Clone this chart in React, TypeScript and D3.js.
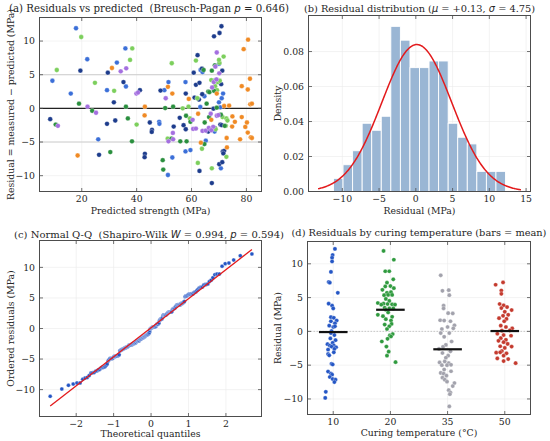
import { useEffect, useRef } from "react";
import * as d3 from "d3";

// ---- panel (a): predicted strength vs residual, grouped by colour ----
const predRoyal = [[17.9,11.9],[22.0,7.3],[9.3,4.1],[16.0,2.2],[32.8,6.8],[29.2,2.7],[26.0,-4.6],[35.9,8.9],[36.1,3.25],[48.2,-2.0],[48.3,-2.3],[50.1,2.7],[51.6,3.9],[51.4,-9.9],[53.0,-7.3],[57.8,3.9],[57.8,-6.4],[59.6,-6.2],[63.3,5.7],[64.0,5.4],[64.7,1.8],[63.2,0.2],[65.2,-4.8],[71.0,1.5],[71.5,2.2],[70.0,6.6],[70.0,0.9],[70.5,0.15],[68.4,-3.45],[70.7,-8.9]];
const predNavy = [[19.5,5.6],[8.5,-1.6],[29.5,5.3],[31.7,0.9],[29.2,-2.3],[32.2,-1.8],[26.3,-6.9],[35.2,3.9],[41.2,2.7],[43.0,-6.75],[42.9,-7.25],[44.8,-2.1],[45.6,-3.2],[45.5,-3.5],[48.7,2.65],[53.5,-2.7],[55.7,-1.4],[57.9,2.2],[57.1,-2.5],[57.9,-3.1],[60.8,5.3],[61.1,1.6],[62.2,7.9],[61.6,3.5],[62.9,3.8],[63.8,5.9],[62.7,1.3],[63.9,2.1],[66.1,-3.45],[62.9,-9.3],[67.4,-11.1],[68.5,4.1],[70.8,3.6],[71.2,5.6],[68.2,10.7],[70.2,11.2],[70.9,12.2],[68.0,-0.05],[70.5,-2.4],[71.0,-2.5],[68.5,-2.95],[70.1,-8.3],[71.2,-8.0],[71.4,-6.4],[71.9,-6.3],[71.6,-6.7]];
const predLime = [[19.8,10.6],[10.9,5.7],[24.8,3.8],[31.8,2.6],[38.4,8.9],[37.6,7.2],[40.0,-2.4],[52.8,6.7],[51.3,-4.5],[56.8,0],[58.9,0.25],[59.4,-1.5],[62.1,1.5],[61.6,7.1],[63.8,-6.0],[62.3,-8.1],[67.4,-8.9],[67.2,4.2],[69.5,3.9],[68.6,3.3],[69.3,2.7],[70.3,4.1],[70.2,6.75],[70.0,7.2],[71.7,7.7],[71.3,-1.3],[68.8,-3.1],[72.7,-1.5],[73.1,-1.8],[72.5,-2.6],[72.7,-7.2]];
const predForest = [[19.0,0.7],[23.8,-0.35],[10.5,-2.4],[30.4,-6.5],[36.1,0.25],[36.8,-1.5],[38.3,-4.9],[50.4,0.05],[53.3,0.25],[52.7,-4.5],[49.5,-7.7],[49.7,-9.1],[55.9,-4.9],[58.0,-1.1],[58.2,-4.9],[59.6,-2.0],[64.4,5.7],[66.1,2.5],[66.5,2.4],[65.5,0.7],[66.4,-1.3],[64.8,-2.1],[64.7,-5.3],[68.2,2.6],[68.5,6.4],[67.4,5.6],[69.2,0.1],[70.7,-0.95],[72.1,-2.6]];
const predPurple = [[22.1,0.25],[25.2,-0.65],[11.3,-2.6],[34.2,5.5],[36.2,5.95],[39.9,2.2],[40.5,2.35],[50.6,1.5],[51.6,-4.9],[53.2,-3.65],[53.3,-4.6],[60.4,-1.7],[60.6,-3.05],[61.6,-3.0],[64.0,-3.35],[65.2,-3.3],[66.3,-2.9],[67.9,-2.75],[67.0,-0.8],[67.2,-3.25],[68.1,3.9],[67.5,3.1],[69.1,4.3],[68.7,6.2],[69.2,8.3],[70.1,5.2],[69.2,-1.1],[69.8,-1.0]];
const predOrange = [[31.0,6.0],[18.5,-7.0],[43.0,0.25],[42.9,-1.05],[51.4,3.2],[53.0,2.2],[59.0,1.4],[62.4,-0.8],[67.2,-1.7],[63.4,-5.1],[69.2,2.2],[71.9,0.35],[73.7,0.4],[74.9,-1.2],[75.8,-2.0],[74.8,-2.7],[72.8,-4.4],[72.9,-5.8],[77.7,-4.6],[78.3,-1.3],[78.3,3.3],[80.5,2.8],[79.0,8.8],[80.6,10.2],[81.3,4.4],[81.4,0.6],[82.0,0.7],[79.6,-2.75],[80.2,-2.1],[80.5,-3.6],[81.6,-4.3],[82.0,-4.4]];
const predGroups = [predRoyal, predNavy, predLime, predForest, predPurple, predOrange];
const predColors = ["#3b6fd8", "#1d3c8c", "#7ccf5c", "#2a8f3e", "#a46fe0", "#f08a24"];

// ---- panel (b): histogram ----
const histEdges = [-11.2,-9.9,-8.6,-7.3,-6.0,-4.7,-3.4,-2.1,-0.8,0.5,1.8,3.1,4.4,5.7,7.0,8.3,9.6,10.9,12.2];
const histDensity = [0.0075,0.0153,0.0233,0.039,0.035,0.043,0.0944,0.0865,0.0708,0.0708,0.0746,0.0746,0.039,0.031,0.0272,0.0115,0.0115,0.0115];
const mu = 0.13;
const sigma = 4.75;
const curveRange = [-13.3, 14.3];

// ---- panel (d): residuals by curing temperature, [jitter, residual] ----
const temps = ["10", "20", "35", "50"];
const tempColors = ["#2456c5", "#2f9a3e", "#a2a2ac", "#c43a2e"];
const tempMeans = [-0.1, 3.2, -2.65, 0.05];
const res10 = [[0.03,12.2],[-0.01,11.3],[-0.02,10.9],[-0.02,10.35],[-0.04,8.8],[-0.08,7.3],[-0.06,7.2],[0.08,5.7],[-0.08,4.1],[-0.02,3.8],[0,3.4],[-0.04,2.1],[0.01,2.0],[0.06,1.6],[-0.04,1.5],[0.03,1.2],[-0.07,0.85],[0,0.65],[0.03,0.75],[-0.03,0.05],[-0.04,-0.25],[0.02,-0.55],[-0.05,-1.05],[0.04,-1.3],[-0.1,-1.9],[-0.01,-1.7],[-0.06,-2.1],[0.01,-2.1],[-0.03,-2.25],[0.05,-2.35],[0.02,-2.6],[-0.09,-2.7],[0.01,-3.1],[-0.09,-3.35],[-0.07,-3.55],[-0.03,-4.8],[-0.01,-4.9],[-0.09,-5.95],[-0.04,-6.25],[-0.02,-6.4],[-0.06,-6.75],[-0.01,-7.05],[0.04,-7.15],[0.02,-7.5],[-0.13,-8.95],[-0.14,-9.85]];
const res20 = [[-0.12,11.9],[0.06,10.6],[-0.09,8.9],[-0.02,8.9],[0.05,7.7],[-0.06,7.2],[-0.09,6.65],[0,6.7],[0.06,6.4],[-0.14,6.15],[-0.06,5.7],[0.01,5.8],[-0.11,5.35],[-0.04,5.4],[0.03,5.4],[-0.08,4.8],[-0.02,4.5],[-0.22,4.2],[-0.12,4.1],[-0.16,3.95],[-0.05,4.05],[0.03,4.0],[0.08,3.95],[-0.1,3.5],[-0.02,3.4],[0.05,3.4],[-0.08,3.2],[-0.04,2.8],[-0.22,2.45],[-0.13,2.25],[0.03,2.15],[-0.08,1.8],[0.01,1.6],[0.02,1.1],[-0.1,1.0],[-0.02,0.75],[-0.06,0.35],[0.04,-0.4],[-0.01,-0.6],[0.01,-0.75],[-0.05,-1.1],[-0.15,-1.5],[-0.07,-2.25],[-0.03,-3.0],[-0.06,-3.6],[0.09,-4.55]];
const res35 = [[-0.12,8.3],[-0.09,6.0],[0.02,6.1],[0.03,5.35],[-0.07,3.8],[-0.07,3.4],[0.01,2.7],[0.09,2.65],[-0.13,1.65],[-0.06,1.6],[0.05,1.5],[0.12,0.9],[0,0.65],[0.1,0.45],[-0.1,0.35],[0.03,-0.25],[-0.12,-0.25],[-0.06,-0.8],[0.07,-1.5],[-0.03,-2.0],[-0.08,-2.3],[-0.15,-2.6],[0.05,-2.95],[-0.09,-3.2],[0.01,-3.6],[-0.03,-3.9],[-0.05,-4.45],[-0.14,-4.6],[0.02,-4.7],[-0.1,-5.0],[-0.01,-5.0],[0.06,-4.95],[-0.06,-5.65],[0.06,-5.9],[-0.12,-6.15],[-0.07,-6.25],[-0.02,-6.55],[-0.09,-6.85],[-0.05,-7.15],[-0.01,-7.45],[0.12,-7.65],[0.09,-8.1],[0.02,-8.7],[0.05,-9.05],[0.04,-9.3],[0.03,-11.1]];
const res50 = [[-0.16,6.9],[-0.03,7.25],[-0.06,6.05],[-0.06,5.55],[-0.09,4.05],[-0.02,3.85],[0.04,3.6],[-0.06,3.45],[0.12,3.15],[0,2.9],[-0.03,2.3],[0.06,2.45],[-0.1,1.95],[0.03,1.85],[-0.01,1.5],[-0.07,0.85],[0.02,0.65],[0.13,0.45],[0.09,0.15],[-0.05,0.1],[-0.13,-0.35],[-0.02,-0.55],[0.11,-0.65],[-0.07,-1.0],[0.02,-1.25],[-0.11,-1.4],[-0.02,-1.6],[0.05,-1.85],[0.12,-2.25],[-0.08,-2.2],[0,-2.45],[-0.05,-2.9],[-0.15,-3.15],[-0.08,-3.1],[0.03,-3.25],[-0.02,-3.6],[-0.13,-4.0],[0.06,-4.1],[-0.02,-4.4],[0.19,-4.7]];
const tempGroups = [res10, res20, res35, res50];

const FONT = "'DejaVu Serif', serif";
const MATH = "'DejaVu Sans', sans-serif";
const INK = "#262626";
const EDGE = "#4d4d4d";
const TICK_FS = 9.3;
const LABEL_FS = 9.3;

type Box = { l: number; r: number; t: number; b: number };

// inverse standard normal CDF (Acklam)
function normInv(p: number) {
  const a = [-39.69683028665376, 220.9460984245205, -275.9285104469687, 138.357751867269, -30.66479806614716, 2.506628277459239];
  const b = [-54.47609879822406, 161.5858368580409, -155.6989798598866, 66.80131188771972, -13.28068155288572];
  const c = [-0.007784894002430293, -0.3223964580411365, -2.400758277161838, -2.549732539343734, 4.374664141464968, 2.938163982698783];
  const d = [0.007784695709041462, 0.3224671290700398, 2.445134137142996, 3.754408661907416];
  const pl = 0.02425;
  if (p < pl) {
    const q = Math.sqrt(-2 * Math.log(p));
    return (((((c[0]*q+c[1])*q+c[2])*q+c[3])*q+c[4])*q+c[5]) / ((((d[0]*q+d[1])*q+d[2])*q+d[3])*q+1);
  }
  if (p > 1 - pl) {
    const q = Math.sqrt(-2 * Math.log(1 - p));
    return -(((((c[0]*q+c[1])*q+c[2])*q+c[3])*q+c[4])*q+c[5]) / ((((d[0]*q+d[1])*q+d[2])*q+d[3])*q+1);
  }
  const q = p - 0.5, r = q * q;
  return (((((a[0]*r+a[1])*r+a[2])*r+a[3])*r+a[4])*r+a[5])*q / (((((b[0]*r+b[1])*r+b[2])*r+b[3])*r+b[4])*r+1);
}

function grid(g: any, box: Box, x: any, y: any, xt: number[], yt: number[]) {
  g.append("g").selectAll("line").data(xt).join("line")
    .attr("x1", (d: number) => x(d)).attr("x2", (d: number) => x(d))
    .attr("y1", box.t).attr("y2", box.b)
    .attr("stroke", "#ebebeb").attr("stroke-width", 0.6);
  g.append("g").selectAll("line").data(yt).join("line")
    .attr("y1", (d: number) => y(d)).attr("y2", (d: number) => y(d))
    .attr("x1", box.l).attr("x2", box.r)
    .attr("stroke", "#ebebeb").attr("stroke-width", 0.6);
}

function frame(g: any, box: Box, x: any, y: any, xt: number[], yt: number[], xf: (d: number) => string, yf: (d: number) => string) {
  const tl = 3.5;
  g.append("rect").attr("x", box.l).attr("y", box.t)
    .attr("width", box.r - box.l).attr("height", box.b - box.t)
    .attr("fill", "none").attr("stroke", EDGE).attr("stroke-width", 1);
  const tk = g.append("g").attr("stroke", EDGE).attr("stroke-width", 0.8);
  xt.forEach((d) => {
    tk.append("line").attr("x1", x(d)).attr("x2", x(d)).attr("y1", box.b).attr("y2", box.b - tl);
    tk.append("line").attr("x1", x(d)).attr("x2", x(d)).attr("y1", box.t).attr("y2", box.t + tl);
  });
  yt.forEach((d) => {
    tk.append("line").attr("y1", y(d)).attr("y2", y(d)).attr("x1", box.l).attr("x2", box.l + tl);
    tk.append("line").attr("y1", y(d)).attr("y2", y(d)).attr("x1", box.r).attr("x2", box.r - tl);
  });
  g.append("g").selectAll("text").data(xt).join("text")
    .attr("x", (d: number) => x(d)).attr("y", box.b + 10.5)
    .attr("text-anchor", "middle").attr("font-family", FONT).attr("font-size", TICK_FS)
    .attr("fill", INK).text(xf);
  g.append("g").selectAll("text").data(yt).join("text")
    .attr("x", box.l - 4.5).attr("y", (d: number) => y(d)).attr("dy", "0.35em")
    .attr("text-anchor", "end").attr("font-family", FONT).attr("font-size", TICK_FS)
    .attr("fill", INK).text(yf);
}

function labels(g: any, box: Box, xl: string, yl: string, xlY: number, ylX: number) {
  g.append("text").attr("x", (box.l + box.r) / 2).attr("y", xlY)
    .attr("text-anchor", "middle").attr("font-family", FONT).attr("font-size", LABEL_FS)
    .attr("fill", INK).text(xl);
  g.append("text").attr("transform", `translate(${ylX},${(box.t + box.b) / 2}) rotate(-90)`)
    .attr("text-anchor", "middle").attr("font-family", FONT).attr("font-size", LABEL_FS)
    .attr("fill", INK).text(yl);
}

// title parts: [text, isMath]
function title(g: any, cx: number, ty: number, fs: number, parts: [string, boolean][]) {
  const t = g.append("text").attr("x", cx).attr("y", ty)
    .attr("text-anchor", "middle").attr("font-family", FONT).attr("font-size", fs)
    .attr("fill", INK).style("white-space", "pre");
  parts.forEach(([s, m]) => {
    const sp = t.append("tspan").text(s);
    if (m) sp.attr("font-family", MATH).attr("font-style", "italic");
  });
}

export default function App() {
  const svgRef = useRef(null);

  useEffect(() => {
    const svg = d3.select(svgRef.current);
    svg.selectAll("*").remove();
    const fmt = d3.format("d");

    // ---------- (a) ----------
    {
      const box: Box = { l: 39.5, r: 261.5, t: 17.5, b: 191.5 };
      const x = d3.scaleLinear().domain([4.6, 85.5]).range([box.l, box.r]);
      const y = d3.scaleLinear().domain([-12.35, 13.5]).range([box.b, box.t]);
      const xt = [20, 40, 60, 80], yt = [-10, -5, 0, 5, 10];
      const g = svg.append("g");
      grid(g, box, x, y, xt, yt);
      g.append("g").selectAll("line").data([-5, 5]).join("line")
        .attr("x1", box.l).attr("x2", box.r).attr("y1", (d) => y(d)).attr("y2", (d) => y(d))
        .attr("stroke", "#c4c4c4").attr("stroke-width", 0.8);
      g.append("line").attr("x1", box.l).attr("x2", box.r).attr("y1", y(0)).attr("y2", y(0))
        .attr("stroke", "#222").attr("stroke-width", 1.2);
      predGroups.forEach((pts, i) => {
        g.append("g").selectAll("circle").data(pts).join("circle")
          .attr("cx", (d) => x(d[0])).attr("cy", (d) => y(d[1])).attr("r", 2.4)
          .attr("fill", predColors[i]).attr("stroke", "white").attr("stroke-width", 0.3);
      });
      frame(g, box, x, y, xt, yt, fmt, fmt);
      labels(g, box, "Predicted strength (MPa)", "Residual = measured \u2212 predicted (MPa)", 213.5, 13.5);
      title(g, 149, 12.2, 10.2, [["(a) Residuals vs predicted  (Breusch-Pagan ", false], ["p", true], [" = 0.646)", false]]);
    }

    // ---------- (b) ----------
    {
      const box: Box = { l: 308.5, r: 530.5, t: 15.5, b: 191.5 };
      const x = d3.scaleLinear().domain([-14.6, 15.6]).range([box.l, box.r]);
      const y = d3.scaleLinear().domain([0, 0.1006]).range([box.b, box.t]);
      const xt = [-10, -5, 0, 5, 10, 15], yt = [0, 0.02, 0.04, 0.06, 0.08];
      const g = svg.append("g");
      grid(g, box, x, y, xt, yt);
      g.append("g").selectAll("rect").data(histDensity).join("rect")
        .attr("x", (_d, i) => x(histEdges[i]))
        .attr("width", (_d, i) => x(histEdges[i + 1]) - x(histEdges[i]))
        .attr("y", (d) => y(d)).attr("height", (d) => y(0) - y(d))
        .attr("fill", "#9ab6d4").attr("stroke", "white").attr("stroke-width", 0.9);
      const pdf = (v: number) => Math.exp(-0.5 * ((v - mu) / sigma) ** 2) / (sigma * Math.sqrt(2 * Math.PI));
      const xs = d3.range(curveRange[0], curveRange[1] + 0.001, 0.1);
      g.append("path").datum(xs)
        .attr("d", d3.line<number>().x((v) => x(v)).y((v) => y(pdf(v))))
        .attr("fill", "none").attr("stroke", "#e31a1c").attr("stroke-width", 1.5);
      frame(g, box, x, y, xt, yt, fmt, d3.format(".2f"));
      labels(g, box, "Residual (MPa)", "Density", 213.5, 280.5);
      title(g, (box.l + box.r) / 2, 12, 9.8, [["(b) Residual distribution (", false], ["\u03bc", true], [" = +0.13, ", false], ["\u03c3", true], [" = 4.75)", false]]);
    }

    // ---------- (c) ----------
    {
      const box: Box = { l: 39.5, r: 261.5, t: 240.5, b: 416.5 };
      const x = d3.scaleLinear().domain([-2.98, 2.95]).range([box.l, box.r]);
      const y = d3.scaleLinear().domain([-14.4, 14.4]).range([box.b, box.t]);
      const xt = [-2, -1, 0, 1, 2], yt = [-10, -5, 0, 5, 10];
      const g = svg.append("g");
      grid(g, box, x, y, xt, yt);
      const sorted = predGroups.flat().map((d) => d[1]).sort(d3.ascending);
      const n = sorted.length;
      const mN = Math.pow(0.5, 1 / n);
      const qq = sorted.map((v, i) => {
        const m = i === 0 ? 1 - mN : i === n - 1 ? mN : (i + 1 - 0.3175) / (n + 0.365);
        return [normInv(m), v];
      });
      g.append("g").selectAll("circle").data(qq).join("circle")
        .attr("cx", (d) => x(d[0])).attr("cy", (d) => y(d[1])).attr("r", 2)
        .attr("fill", "#2456c5").attr("stroke", "white").attr("stroke-width", 0.35);
      const q0 = qq[0][0], q1 = qq[n - 1][0];
      g.append("line").attr("x1", x(q0)).attr("y1", y(mu + sigma * q0))
        .attr("x2", x(q1)).attr("y2", y(mu + sigma * q1))
        .attr("stroke", "#e31a1c").attr("stroke-width", 1.3);
      frame(g, box, x, y, xt, yt, fmt, fmt);
      labels(g, box, "Theoretical quantiles", "Ordered residuals (MPa)", 437, 13.5);
      title(g, 149, 237.5, 10, [["(c) Normal Q-Q  (Shapiro-Wilk ", false], ["W", true], [" = 0.994, ", false], ["p", true], [" = 0.594)", false]]);
    }

    // ---------- (d) ----------
    {
      const box: Box = { l: 307.5, r: 530.5, t: 241.5, b: 414.5 };
      const x = d3.scaleLinear().domain([-0.45, 3.45]).range([box.l, box.r]);
      const y = d3.scaleLinear().domain([-12.3, 13.3]).range([box.b, box.t]);
      const xt = [0, 1, 2, 3], yt = [-10, -5, 0, 5, 10];
      const g = svg.append("g");
      grid(g, box, x, y, xt, yt);
      g.append("line").attr("x1", box.l).attr("x2", box.r).attr("y1", y(0)).attr("y2", y(0))
        .attr("stroke", "#bdbdbd").attr("stroke-width", 0.8).attr("stroke-dasharray", "1.5,1.5");
      tempGroups.forEach((pts, i) => {
        g.append("g").selectAll("circle").data(pts).join("circle")
          .attr("cx", (d) => x(i + d[0])).attr("cy", (d) => y(d[1])).attr("r", 2.1)
          .attr("fill", tempColors[i]).attr("stroke", "white").attr("stroke-width", 0.3);
      });
      g.append("g").selectAll("line").data(tempMeans).join("line")
        .attr("x1", (_d, i) => x(i - 0.25)).attr("x2", (_d, i) => x(i + 0.25))
        .attr("y1", (d) => y(d)).attr("y2", (d) => y(d))
        .attr("stroke", "#111").attr("stroke-width", 2.2);
      frame(g, box, x, y, xt, yt, (d) => temps[d], fmt);
      labels(g, box, "Curing temperature (\u00b0C)", "Residual (MPa)", 436, 281);
      title(g, (box.l + box.r) / 2, 236, 9.8, [["(d) Residuals by curing temperature (bars = mean)", false]]);
    }
  }, []);

  return (
    <svg ref={svgRef} width={550} height={441}
      style={{ position: "absolute", left: 0, top: 0, background: "white" }} />
  );
}
